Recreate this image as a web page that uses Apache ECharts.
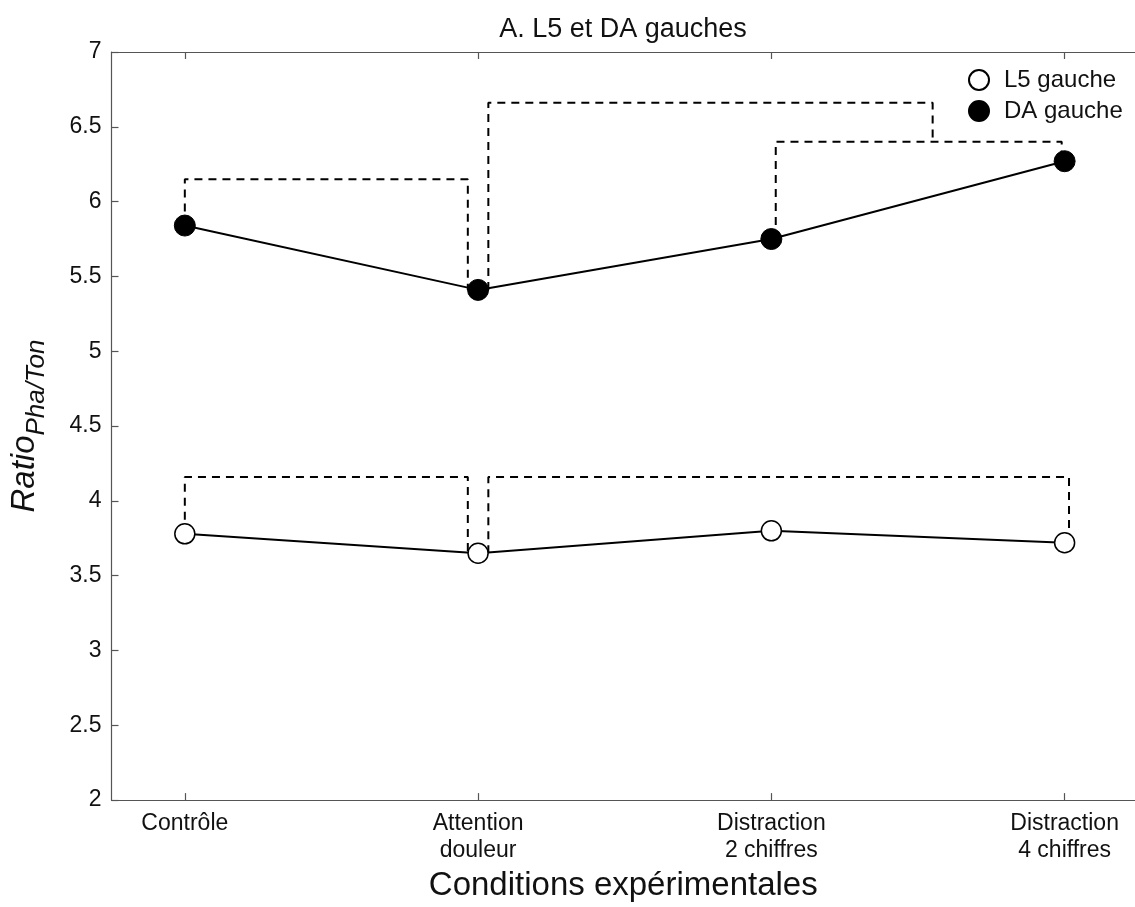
<!DOCTYPE html>
<html>
<head>
<meta charset="utf-8">
<script src="https://cdn.jsdelivr.net/npm/echarts@6/dist/echarts.min.js"></script>
<style>
html,body{margin:0;padding:0;background:#fff;}
#chart{width:1135px;height:907px;}
</style>
</head>
<body>
<div id="chart"></div>
<script>
// ---- data ----
const categories = ['Contrôle', 'Attention\ndouleur', 'Distraction\n2 chiffres', 'Distraction\n4 chiffres'];
const categoryPositions = [1, 2, 3, 4];
const l5Values = [3.78, 3.65, 3.80, 3.72];
const daValues = [5.84, 5.41, 5.75, 6.27];
const yMin = 2, yMax = 7, yStep = 0.5;
// significance brackets: [xLeft, xRight, yTop, yLeftEnd, yRightEnd] in data units
const bracketsDA = [
  [1.0, 1.965, 6.15, 5.84, 5.41],
  [2.035, 3.55, 6.66, 5.41, 6.40],
  [3.015, 3.99, 6.40, 5.75, 6.27]
];
const bracketsL5 = [
  [1.0, 1.965, 4.16, 3.78, 3.65],
  [2.035, 4.015, 4.16, 3.65, 3.72]
];

const font = 'Liberation Sans, Arial, sans-serif';

function bracketSeries(b) {
  return {
    type: 'line',
    data: [[b[0], b[3]], [b[0], b[2]], [b[1], b[2]], [b[1], b[4]]],
    showSymbol: false,
    symbol: 'none',
    silent: true,
    legendHoverLink: false,
    lineStyle: {color: '#000', width: 2, type: [8, 6]},
    z: 1
  };
}

const chart = echarts.init(document.getElementById('chart'), null, {renderer: 'canvas'});
const series = [];
bracketsDA.concat(bracketsL5).forEach(b => series.push(bracketSeries(b)));
series.push({
  name: 'L5 gauche',
  type: 'line',
  data: categoryPositions.map((x, i) => [x, l5Values[i]]),
  symbol: 'circle',
  symbolSize: 20,
  showAllSymbol: true,
  lineStyle: {color: '#000', width: 2},
  itemStyle: {color: '#fff', borderColor: '#000', borderWidth: 1.5},
  z: 3
});
series.push({
  name: 'DA gauche',
  type: 'line',
  data: categoryPositions.map((x, i) => [x, daValues[i]]),
  symbol: 'circle',
  symbolSize: 21,
  showAllSymbol: true,
  lineStyle: {color: '#000', width: 2},
  itemStyle: {color: '#000', borderColor: '#000', borderWidth: 1},
  z: 3
});

const axisLineStyle = {color: '#555', width: 1.2};

chart.setOption({
  animation: false,
  backgroundColor: '#fff',
  title: {
    text: 'A. L5 et DA gauches',
    left: 618, top: 11, textAlign: 'center',
    textStyle: {fontFamily: font, fontSize: 27, fontWeight: 'normal', color: '#111'}
  },
  legend: {
    orient: 'vertical',
    left: 963, top: 63,
    itemWidth: 20, itemHeight: 20, itemGap: 7,
    icon: 'circle',
    data: ['L5 gauche', 'DA gauche'],
    textStyle: {fontFamily: font, fontSize: 24, color: '#111', padding: [0, 0, 0, 10]}
  },
  grid: {left: 102, right: 0, top: 52, bottom: 94, containLabel: false},
  xAxis: [{
    type: 'value',
    min: 0.75, max: 4.24,
    position: 'bottom',
    name: 'Conditions expérimentales',
    nameLocation: 'middle',
    nameGap: 66,
    nameTextStyle: {fontFamily: font, fontSize: 33, color: '#111'},
    axisLine: {show: true, lineStyle: axisLineStyle},
    axisTick: {show: true, inside: true, length: 7, customValues: categoryPositions, lineStyle: axisLineStyle},
    axisLabel: {
      customValues: categoryPositions,
      formatter: v => categories[Math.round(v) - 1],
      fontFamily: font, fontSize: 23, lineHeight: 27, color: '#111', margin: 10
    },
    splitLine: {show: false}
  }, {
    type: 'value',
    min: 0.75, max: 4.24,
    position: 'top',
    axisLine: {show: true, lineStyle: axisLineStyle},
    axisTick: {show: true, inside: true, length: 7, customValues: categoryPositions, lineStyle: axisLineStyle},
    axisLabel: {show: false},
    splitLine: {show: false}
  }],
  yAxis: {
    type: 'value',
    min: yMin, max: yMax, interval: yStep,
    name: '{a|Ratio}{b|Pha/Ton}',
    nameLocation: 'middle',
    nameGap: 62,
    nameRotate: 90,
    nameTextStyle: {
      fontFamily: font, color: '#111',
      rich: {
        a: {fontFamily: font, fontSize: 33, fontStyle: 'italic', color: '#111'},
        b: {fontFamily: font, fontSize: 26, fontStyle: 'italic', color: '#111', padding: [24, 0, 0, 0]}
      }
    },
    axisLine: {show: true, lineStyle: axisLineStyle},
    axisTick: {show: true, inside: true, length: 7, lineStyle: axisLineStyle},
    axisLabel: {fontFamily: font, fontSize: 23, color: '#111', margin: 10},
    splitLine: {show: false}
  },
  series: series
});
</script>
</body>
</html>
